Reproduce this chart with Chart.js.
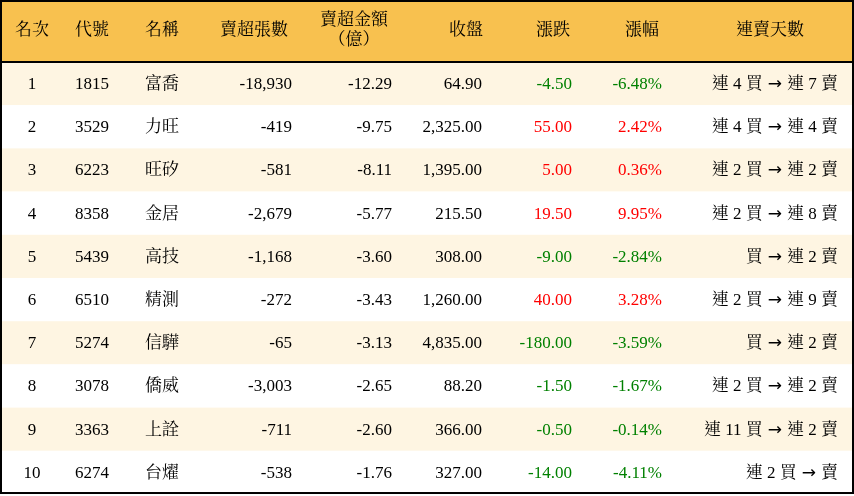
<!DOCTYPE html>
<html><head><meta charset="utf-8">
<script src="https://cdn.jsdelivr.net/npm/chart.js@4/dist/chart.umd.min.js"></script>
<style>html,body{margin:0;background:#fff}#wrap{width:854px;height:496px}</style>
</head><body><div id="wrap"><canvas id="c"></canvas></div>
<script>
const headers = ['名次', '代號', '名稱', '賣超張數', '賣超金額\n（億）', '收盤', '漲跌', '漲幅', '連賣天數']
const ranks = ['1', '2', '3', '4', '5', '6', '7', '8', '9', '10']
const codes = ['1815', '3529', '6223', '8358', '5439', '6510', '5274', '3078', '3363', '6274']
const names = ['富喬', '力旺', '旺矽', '金居', '高技', '精測', '信驊', '僑威', '上詮', '台燿']
const netSellLots = [-18930, -419, -581, -2679, -1168, -272, -65, -3003, -711, -538]
const netSellAmount = [-12.29, -9.75, -8.11, -5.77, -3.60, -3.43, -3.13, -2.65, -2.60, -1.76]
const closes = [64.90, 2325.00, 1395.00, 215.50, 308.00, 1260.00, 4835.00, 88.20, 366.00, 327.00]
const changes = [-4.50, 55.00, 5.00, 19.50, -9.00, 40.00, -180.00, -1.50, -0.50, -14.00]
const changePct = [-6.48, 2.42, 0.36, 9.95, -2.84, 3.28, -3.59, -1.67, -0.14, -4.11]
const streaks = ['連 4 買 → 連 7 賣', '連 4 買 → 連 4 賣', '連 2 買 → 連 2 賣', '連 2 買 → 連 8 賣', '買 → 連 2 賣',
  '連 2 買 → 連 9 賣', '買 → 連 2 賣', '連 2 買 → 連 2 賣', '連 11 買 → 連 2 賣', '連 2 買 → 賣']

// column anchor (x scale units) and alignment
const colX = [32, 92, 162, 292, 392, 482, 572, 662, 838]
const colAlign = ['center', 'center', 'center', 'right', 'right', 'right', 'right', 'right', 'right']
const headX = [32, 92, 162, 254, 354, 466, 553, 642, 770]

const fmt = (v, d) => v.toLocaleString('en-US', { minimumFractionDigits: d, maximumFractionDigits: d })
const Y_MIN = -0.935, Y_MAX = 10.546

const tablePlugin = {
  id: 'table',
  beforeDatasetsDraw(chart) {
    const { ctx } = chart
    const x = chart.scales.x, y = chart.scales.y
    const rowH = y.getPixelForValue(2) - y.getPixelForValue(1)
    const left = x.getPixelForValue(0), right = x.getPixelForValue(854)
    const serif = '"Liberation Serif", "Noto Serif CJK TC", "Noto Sans CJK TC", serif'
    ctx.save()
    // header
    const hTop = y.getPixelForValue(Y_MIN), hBot = y.getPixelForValue(0.5)
    const hMid = (hTop + hBot) / 2
    ctx.fillStyle = '#F8C14F'
    ctx.fillRect(left, hTop, right - left, hBot - hTop)
    ctx.fillStyle = '#000'
    ctx.font = '17px ' + serif
    ctx.textBaseline = 'middle'
    ctx.textAlign = 'center'
    headers.forEach((h, i) => {
      const lines = h.split('\n')
      const cx = x.getPixelForValue(headX[i])
      if (lines.length === 1) ctx.fillText(h, cx, hMid)
      else {
        ctx.fillText(lines[0], cx, hMid - 10)
        ctx.fillText(lines[1], cx, hMid + 10)
      }
    })
    // rows
    for (let r = 0; r < ranks.length; r++) {
      const cy = y.getPixelForValue(r + 1)
      ctx.fillStyle = r % 2 === 0 ? '#FEF5E2' : '#FFFFFF'
      ctx.fillRect(left, cy - rowH / 2, right - left, rowH)
      const up = changes[r] > 0
      const cells = [ranks[r], codes[r], names[r], fmt(netSellLots[r], 0), fmt(netSellAmount[r], 2),
        fmt(closes[r], 2), fmt(changes[r], 2), fmt(changePct[r], 2) + '%']
      ctx.font = '17px ' + serif
      cells.forEach((t, i) => {
        ctx.fillStyle = (i === 6 || i === 7) ? (up ? '#FF0000' : '#008000') : '#000'
        ctx.textAlign = colAlign[i]
        ctx.fillText(t, x.getPixelForValue(colX[i]), cy + 1)
      })
      // streak: draw right to left, arrow in DejaVu Sans
      const [a, b] = streaks[r].split(' → ')
      const arrowFont = '17px "DejaVu Sans"'
      ctx.fillStyle = '#000'
      ctx.textAlign = 'right'
      let px = x.getPixelForValue(colX[8])
      ctx.font = '17px ' + serif
      ctx.fillText(b, px, cy + 1)
      px -= ctx.measureText(b).width + 5
      ctx.font = arrowFont
      ctx.fillText('→', px, cy + 1)
      px -= ctx.measureText('→').width + 5
      ctx.font = '17px ' + serif
      ctx.fillText(a, px, cy + 1)
    }
    // header underline and border
    ctx.strokeStyle = '#000'
    ctx.lineWidth = 2
    ctx.beginPath(); ctx.moveTo(left, hBot); ctx.lineTo(right, hBot); ctx.stroke()
    const bottom = y.getPixelForValue(ranks.length) + rowH / 2
    ctx.strokeRect(left + 1, hTop + 1, right - left - 2, bottom - hTop - 2)
    ctx.restore()
  }
}

new Chart(document.getElementById('c'), {
  type: 'scatter',
  data: { datasets: [{ data: [], pointRadius: 0 }] },
  options: {
    responsive: true, maintainAspectRatio: false, animation: false,
    layout: { padding: 0 },
    scales: {
      x: { type: 'linear', min: 0, max: 854, display: false },
      y: { type: 'linear', min: Y_MIN, max: Y_MAX, reverse: true, display: false }
    },
    plugins: { legend: { display: false }, tooltip: { enabled: false } }
  },
  plugins: [tablePlugin]
})
</script></body></html>
